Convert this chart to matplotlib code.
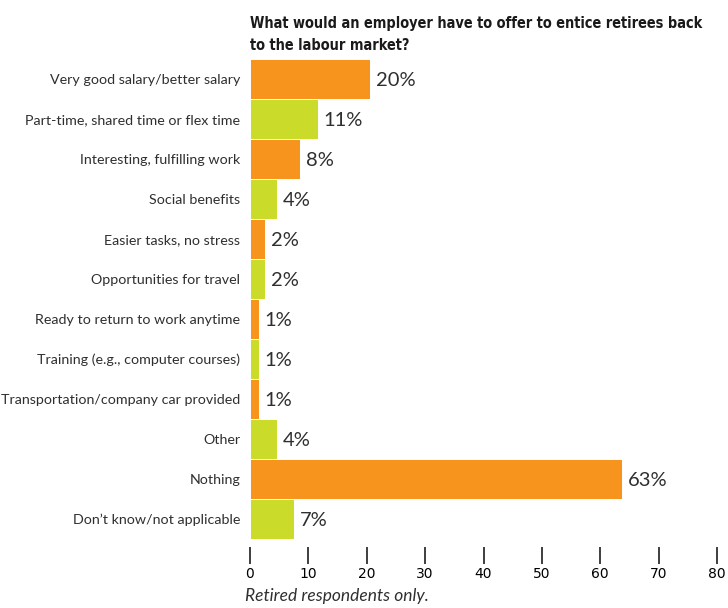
import matplotlib
matplotlib.use("Agg")
import matplotlib.pyplot as plt
from matplotlib import font_manager as fm

categories = [
    "Very good salary/better salary",
    "Part-time, shared time or flex time",
    "Interesting, fulfilling work",
    "Social benefits",
    "Easier tasks, no stress",
    "Opportunities for travel",
    "Ready to return to work anytime",
    "Training (e.g., computer courses)",
    "Transportation/company car provided",
    "Other",
    "Nothing",
    "Don\u2019t know/not applicable",
]
values = [20, 11, 8, 4, 2, 2, 1, 1, 1, 4, 63, 7]
bar_lengths = [20.6, 11.6, 8.6, 4.6, 2.6, 2.6, 1.5, 1.5, 1.5, 4.6, 63.7, 7.6]
x_ticks = [0, 10, 20, 30, 40, 50, 60, 70, 80]
title_lines = ["What would an employer have to offer to entice retirees back",
               "to the labour market?"]
note = "Retired respondents only."

orange = "#F7941D"
green = "#CBDB2A"
text_col = "#2f2f2f"
body_font = "Lato"

# pick a condensed bold font for the title if one is installed
cands = []
for f in fm.fontManager.ttflist:
    nm = f.name.lower()
    st = str(f.stretch).lower()
    fn = f.fname.lower()
    cond = ("narrow" in nm or "condensed" in nm or "condensed" in st or
            "condensed" in fn or "narrow" in fn)
    w = f.weight if isinstance(f.weight, int) else (700 if "bold" in str(f.weight) else 400)
    if cond and w >= 600 and f.style == "normal":
        cands.append(f.fname)
title_prop = fm.FontProperties(fname=cands[0]) if cands else fm.FontProperties(family="Liberation Sans", weight="bold")

W, H = 728, 608
fig = plt.figure(figsize=(W / 100, H / 100), dpi=100)
left, right = 250, 717
top, bottom = 59, 539
ax = fig.add_axes([left / W, 1 - bottom / H, (right - left) / W, (bottom - top) / H])

n = len(categories)
ypos = list(range(n))
colors = [orange if i % 2 == 0 else green for i in range(n)]
ax.barh(ypos, bar_lengths, height=1.0, color=colors, edgecolor="white", linewidth=0.7)
for y, bl, v in zip(ypos, bar_lengths, values):
    ax.text(bl + 1.0, y + 0.05, f"{v}%", va="center", ha="left",
            fontsize=14.5, color=text_col, family=body_font)

ax.set_ylim(n - 0.5, -0.5)
ax.set_xlim(0, 80)
ax.set_yticks(ypos)
ax.set_yticklabels(categories, fontsize=10.3, color=text_col, family=body_font)
ax.tick_params(axis="y", length=0, pad=7)
ax.set_xticks(x_ticks)
ax.set_xticklabels([str(t) for t in x_ticks], fontsize=15.5, color=text_col,
                   family=body_font, fontweight="light")
ax.tick_params(axis="x", direction="out", length=12, width=1.3, color=text_col, pad=2)
for s in ["top", "right", "left"]:
    ax.spines[s].set_visible(False)
ax.spines["bottom"].set_position(("outward", 6))
ax.spines["bottom"].set_visible(False)

# title: fit first line to the reference width (~456 px)
t1 = fig.text(left / W, 1 - 28 / H, title_lines[0], ha="left", va="baseline",
              fontproperties=title_prop, fontsize=12, color="#1a1a1a")
t2 = fig.text(left / W, 1 - 50 / H, title_lines[1], ha="left", va="baseline",
              fontproperties=title_prop, fontsize=12, color="#1a1a1a")
fig.canvas.draw()
wpx = t1.get_window_extent().width
size = 12 * 456 / wpx
size = min(size, 13)
t1.set_fontsize(size)
t2.set_fontsize(size)

fig.text(245 / W, 1 - 601 / H, note, ha="left", va="baseline", fontsize=12.5,
         style="italic", color=text_col, family=body_font)

fig.savefig("out.png", dpi=100)
